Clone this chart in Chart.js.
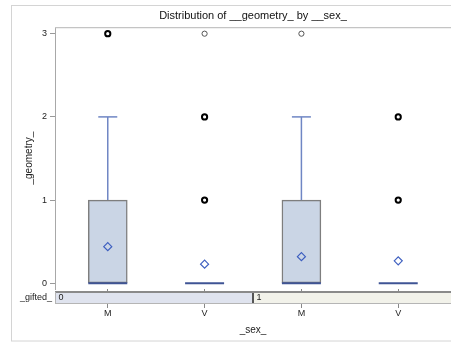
<!DOCTYPE html>
<html><head><meta charset="utf-8">
<script src="https://cdn.jsdelivr.net/npm/chart.js@4.4.0/dist/chart.umd.min.js"></script>
<style>html,body{margin:0;padding:0;background:#fff;overflow:hidden}#wrap{width:451px;height:345px;position:relative}</style>
</head><body><div id="wrap"><canvas id="c" width="451" height="345"></canvas></div>
<script>
// ---- data ----
const sexLabels = ['M', 'V', 'M', 'V'];
const giftedGroups = ['0', '1'];
const giftedOfCategory = [0, 0, 1, 1];
const q1 = [0, 0, 0, 0];
const medians = [0, 0, 0, 0];
const q3 = [1, 0, 1, 0];
const whiskerLow = [0, 0, 0, 0];
const whiskerHigh = [2, 0, 2, 0];
const means = [0.44, 0.23, 0.32, 0.27];
const outliersRepeated = [[3], [2, 1], [], [2, 1]];
const outliersSingle = [[], [3], [3], []];
const yTicks = [0, 1, 2, 3];
const xTicks = [0, 1, 2, 3];

// ---- styles ----
const FONT = 'Liberation Sans, Arial, sans-serif';
Chart.defaults.font.family = FONT;
const BOX_FILL = '#CAD5E5', BOX_LINE = '#7E7E7E', MEDIAN_COL = '#3F5495', WHISKER_COL = '#6F86C4', MEAN_COL = '#3F60C0';
const BOX_PX = 39, CAP_PX = 19;

const boxData = q1.map((v, i) => ({x: i, y: [v, q3[i]]}));
const meanData = means.map((m, i) => ({x: i, y: m}));
const repData = [], singleData = [];
outliersRepeated.forEach((arr, i) => arr.forEach(v => repData.push({x: i, y: v})));
outliersSingle.forEach((arr, i) => arr.forEach(v => singleData.push({x: i, y: v})));

const framePlugin = {
  id: 'frame',
  beforeDraw(chart) {
    const ctx = chart.ctx;
    ctx.save();
    ctx.fillStyle = '#fff';
    ctx.fillRect(0, 0, chart.width, chart.height);
    ctx.strokeStyle = '#D4D4D4';
    ctx.lineWidth = 1;
    ctx.strokeRect(11.5, 5.5, chart.width + 20, 335.5);
    ctx.restore();
  },
  afterDraw(chart) {
    const ctx = chart.ctx, a = chart.chartArea, xs = chart.scales.x;
    ctx.save();
    ctx.strokeStyle = '#C4C4C4';
    ctx.lineWidth = 1.2;
    ctx.beginPath(); ctx.moveTo(a.left, a.top + 0.5); ctx.lineTo(a.right, a.top + 0.5); ctx.stroke();
    const sTop = a.bottom + 3, sBot = a.bottom + 14;
    const fills = ['#DFE3EE', '#F2F2EA'];
    giftedGroups.forEach((g, gi) => {
      const idx = giftedOfCategory.map((v, i) => v === gi ? i : -1).filter(i => i >= 0);
      const first = idx[0], last = idx[idx.length - 1];
      const x0 = gi === 0 ? a.left : xs.getPixelForValue(first - 0.5);
      const x1 = gi === giftedGroups.length - 1 ? a.right : xs.getPixelForValue(last + 0.5);
      ctx.fillStyle = fills[gi % 2];
      ctx.fillRect(x0, sTop, x1 - x0, sBot - sTop);
      ctx.fillStyle = '#222';
      ctx.font = '9px ' + FONT;
      ctx.textAlign = 'left'; ctx.textBaseline = 'middle';
      ctx.fillText(g, x0 + 3.5, (sTop + sBot) / 2 + 0.5);
      if (gi > 0) {
        ctx.strokeStyle = '#555';
        ctx.lineWidth = 2;
        ctx.beginPath(); ctx.moveTo(x0, sTop); ctx.lineTo(x0, sBot); ctx.stroke();
      }
    });
    ctx.strokeStyle = '#8A8A8A'; ctx.lineWidth = 2;
    ctx.beginPath(); ctx.moveTo(a.left, sTop); ctx.lineTo(a.right, sTop); ctx.stroke();
    ctx.strokeStyle = '#B5B5B5'; ctx.lineWidth = 1;
    ctx.beginPath(); ctx.moveTo(a.left, sBot + 0.5); ctx.lineTo(a.right, sBot + 0.5); ctx.stroke();
    ctx.beginPath(); ctx.moveTo(a.left + 0.5, sTop); ctx.lineTo(a.left + 0.5, sBot); ctx.stroke();
    ctx.fillStyle = '#222';
    ctx.font = '9px ' + FONT;
    ctx.textAlign = 'right'; ctx.textBaseline = 'middle';
    ctx.fillText('_gifted_', a.left - 3, (sTop + sBot) / 2 + 0.5);
    ctx.restore();
  },
  afterDatasetDraw(chart, args) {
    if (args.meta.type !== 'bar') return;
    const ctx = chart.ctx, xs = chart.scales.x, ys = chart.scales.y;
    ctx.save();
    q1.forEach((v, i) => {
      const cx = xs.getPixelForValue(i);
      ctx.strokeStyle = WHISKER_COL; ctx.lineWidth = 1.5;
      if (whiskerHigh[i] > q3[i]) {
        const yq = ys.getPixelForValue(q3[i]), yw = ys.getPixelForValue(whiskerHigh[i]);
        ctx.beginPath(); ctx.moveTo(cx, yq); ctx.lineTo(cx, yw); ctx.stroke();
        ctx.beginPath(); ctx.moveTo(cx - CAP_PX / 2, yw); ctx.lineTo(cx + CAP_PX / 2, yw); ctx.stroke();
      }
      if (whiskerLow[i] < q1[i]) {
        const yq = ys.getPixelForValue(q1[i]), yw = ys.getPixelForValue(whiskerLow[i]);
        ctx.beginPath(); ctx.moveTo(cx, yq); ctx.lineTo(cx, yw); ctx.stroke();
        ctx.beginPath(); ctx.moveTo(cx - CAP_PX / 2, yw); ctx.lineTo(cx + CAP_PX / 2, yw); ctx.stroke();
      }
      const ym = ys.getPixelForValue(medians[i]);
      ctx.strokeStyle = MEDIAN_COL; ctx.lineWidth = 2;
      ctx.beginPath(); ctx.moveTo(cx - BOX_PX / 2, ym); ctx.lineTo(cx + BOX_PX / 2, ym); ctx.stroke();
    });
    ctx.restore();
  }
};

new Chart(document.getElementById('c'), {
  type: 'scatter',
  data: {
    datasets: [
      {type: 'bar', data: boxData, backgroundColor: BOX_FILL, borderColor: BOX_LINE, borderWidth: 1.5,
       borderSkipped: false, barThickness: BOX_PX, order: 5},
      {data: meanData, pointStyle: 'rectRot', pointRadius: 4, pointBorderColor: MEAN_COL,
       pointBackgroundColor: 'rgba(0,0,0,0)', pointBorderWidth: 1.2, order: 1},
      {data: repData, pointStyle: 'circle', pointRadius: 2.6, pointBorderColor: '#000',
       pointBackgroundColor: 'rgba(0,0,0,0)', pointBorderWidth: 2, order: 0},
      {data: singleData, pointStyle: 'circle', pointRadius: 2.6, pointBorderColor: '#555',
       pointBackgroundColor: 'rgba(0,0,0,0)', pointBorderWidth: 1, order: 0}
    ]
  },
  options: {
    responsive: false, animation: false, devicePixelRatio: 1,
    layout: {autoPadding: false, padding: {left: 0, right: 0, top: 0, bottom: 0}},
    plugins: {
      legend: {display: false}, tooltip: {enabled: false},
      title: {display: true, fullSize: false, text: 'Distribution of __geometry_ by __sex_', color: '#111',
              font: {size: 11, weight: 'normal', family: FONT}, padding: {top: 9, bottom: 5}}
    },
    scales: {
      x: {
        type: 'linear', min: -0.545, max: 3.545, offset: false,
        afterBuildTicks(s) { s.ticks = xTicks.map(v => ({value: v})); },
        afterFit(s) { s.height = 56; s.paddingLeft = 0; s.paddingRight = 0; },
        ticks: {callback: v => sexLabels[v], color: '#222', font: {size: 9}, padding: 0, maxRotation: 0, autoSkip: false},
        grid: {display: true, drawOnChartArea: false, drawTicks: true, tickLength: 19, color: '#888', offset: false},
        border: {display: false},
        title: {display: true, text: '_sex_', color: '#222', font: {size: 10}, padding: {top: 0, bottom: 9}}
      },
      y: {
        min: -0.0685, max: 3.078,
        afterBuildTicks(s) { s.ticks = yTicks.map(v => ({value: v})); },
        afterFit(s) { s.width = 55; s.paddingTop = 0; s.paddingBottom = 0; },
        ticks: {color: '#222', font: {size: 9}, padding: 3},
        grid: {display: true, drawOnChartArea: false, drawTicks: true, tickLength: 5, color: '#999'},
        border: {display: true, color: '#A8A8A8', width: 1},
        title: {display: true, text: '_geometry_', color: '#222', font: {size: 10}, padding: {top: 23, bottom: 0}}
      }
    }
  },
  plugins: [framePlugin]
});
</script></body></html>
